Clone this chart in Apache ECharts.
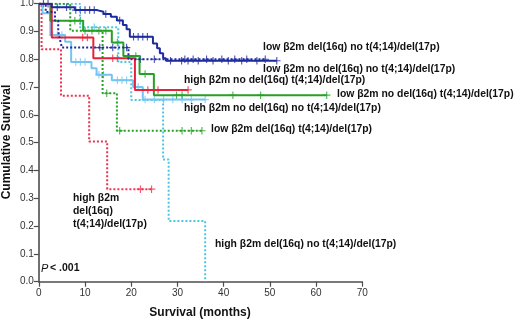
<!DOCTYPE html>
<html><head><meta charset="utf-8">
<script src="https://cdn.jsdelivr.net/npm/echarts@6/dist/echarts.min.js"></script>
<style>html,body{margin:0;padding:0;background:#fff}#c{width:520px;height:320px}</style>
</head><body><div id="c"></div>
<script>
// ---- data (times in months, survival as step points) ----
const xTickValues = [0, 10, 20, 30, 40, 50, 60, 70];
const yTickValues = [0, 0.1, 0.2, 0.3, 0.4, 0.5, 0.6, 0.7, 0.8, 0.9, 1.0];

const lowNoNoTimes = [0, 2.8, 7.8, 12.6, 14, 15.6, 16.9, 18.2, 19, 19.7, 24.7, 25.6, 26.2, 26.9, 27.5, 51.5];
const lowNoNoSurv  = [1.0, 0.987, 0.977, 0.971, 0.963, 0.953, 0.94, 0.923, 0.908, 0.881, 0.857, 0.84, 0.822, 0.804, 0.795, 0.795];
const lowNoNoCens  = [1, 2, 4, 6, 8, 9, 10, 11, 12, 14.5, 17.5, 20.5, 21.5, 22.5, 23.5, 28.5, 30.9, 32.3, 34.5, 37.7, 41, 43.9, 47.2, 51.5];

const lowDelNoTimes = [0, 1.5, 3.5, 4.2, 4.6, 5, 19.4, 49];
const lowDelNoSurv  = [1.0, 0.97, 0.94, 0.9, 0.87, 0.842, 0.80, 0.80];
const lowDelNoCens  = [13.2, 16, 19, 22, 25, 31.6, 33.4, 36.3, 39.6, 42.4, 45, 49];

const highNoTTimes = [0, 2.8, 11.8, 20.8, 32.3];
const highNoTSurv  = [1.0, 0.878, 0.804, 0.69, 0.69];
const highNoTCens  = [9.5, 10.5, 16, 17, 23.6, 25.8, 32.3];

const lowNoTTimes = [0, 2.5, 9.6, 15.8, 18.3, 21.8, 24.9, 62.3];
const lowNoTSurv  = [1.0, 0.939, 0.903, 0.86, 0.812, 0.747, 0.671, 0.671];
const lowNoTCens  = [7.8, 9, 13, 14.5, 17, 21, 23, 29.8, 31, 42, 48, 62.3];

const highNoNoTimes = [0, 0.8, 2.5, 5.7, 7, 11.4, 12.5, 15.8, 20.4, 22.5, 36];
const highNoNoSurv  = [1.0, 0.966, 0.887, 0.863, 0.79, 0.768, 0.744, 0.725, 0.70, 0.655, 0.655];
const highNoNoCens  = [3, 4, 5, 8, 9, 10, 13, 14, 17, 18, 19, 21.5, 23, 25, 27, 29, 31, 33, 36];

const highDelNoTimes = [0, 8.9, 17.2, 20, 26.9, 28.1, 36, 36];
const highDelNoSurv  = [1.0, 0.915, 0.79, 0.654, 0.44, 0.218, 0.0, 0.0];
const highDelNoCens  = [12];

const lowDelTTimes = [0, 6.8, 13.8, 16.9, 35.3];
const lowDelTSurv  = [1.0, 0.903, 0.678, 0.543, 0.543];
const lowDelTCens  = [10, 11.5, 14.7, 17.5, 31, 33, 35.3];

const highDelTTimes = [0, 0.6, 4.8, 10.9, 14.8, 24.4];
const highDelTSurv  = [1.0, 0.836, 0.669, 0.504, 0.333, 0.333];
const highDelTCens  = [22, 24.4];

const groupLabels = [
  'low β2m del(16q) no t(4;14)/del(17p)',
  'low β2m no del(16q) no t(4;14)/del(17p)',
  'high β2m no del(16q) t(4;14)/del(17p)',
  'low β2m no del(16q) t(4;14)/del(17p)',
  'high β2m no del(16q) no t(4;14)/del(17p)',
  'low β2m del(16q) t(4;14)/del(17p)',
  'high β2m\ndel(16q)\nt(4;14)/del(17p)',
  'high β2m del(16q) no t(4;14)/del(17p)'
];
const pText = '< .001';
const xTitle = 'Survival (months)';
const yTitle = 'Cumulative Survival';

// ---- build ----
function pairs(ts, ss){ return ts.map((t,i)=>[t, ss[i]]); }
function survAt(ts, ss, t){ let v = ss[0]; for (let i=0;i<ts.length;i++){ if (ts[i] <= t) v = ss[i]; } return v; }
const plus = 'path://M4.25,0 H5.75 V4.25 H10 V5.75 H5.75 V10 H4.25 V5.75 H0 V4.25 H4.25 Z';

const groups = [
  {t: highDelTTimes, s: highDelTSurv, c: highDelTCens, color: '#f0304f', dotted: true},
  {t: highDelNoTimes, s: highDelNoSurv, c: highDelNoCens, color: '#4cc6df', dotted: true},
  {t: lowDelTTimes, s: lowDelTSurv, c: lowDelTCens, color: '#25a126', dotted: true},
  {t: highNoNoTimes, s: highNoNoSurv, c: highNoNoCens, color: '#74c4f2', dotted: false},
  {t: lowNoTTimes, s: lowNoTSurv, c: lowNoTCens, color: '#25a126', dotted: false},
  {t: highNoTTimes, s: highNoTSurv, c: highNoTCens, color: '#e8203a', dotted: false},
  {t: lowDelNoTimes, s: lowDelNoSurv, c: lowDelNoCens, color: '#1f2a9e', dotted: true},
  {t: lowNoNoTimes, s: lowNoNoSurv, c: lowNoNoCens, color: '#1f2a9e', dotted: false}
];

const series = [];
groups.forEach(g => {
  series.push({
    type: 'line', step: 'end', symbol: 'none', silent: true,
    data: pairs(g.t, g.s),
    lineStyle: {color: g.color, width: 2, type: g.dotted ? [2, 2] : 'solid'}
  });
  series.push({
    type: 'scatter', symbol: plus, symbolSize: 7.5, silent: true,
    data: g.c.map(t => [t, survAt(g.t, g.s, t)]),
    itemStyle: {color: g.color}
  });
});

const labelFont = 'bold 10.4px "Liberation Sans", Arial, sans-serif';
const labelPos = [
  [263, 47], [263, 69], [184, 80], [337, 94], [184, 108], [211, 129.5], null, [215, 244]
];
const graphic = [];
groupLabels.forEach((txt, i) => {
  if (labelPos[i]) {
    graphic.push({type: 'text', x: labelPos[i][0], y: labelPos[i][1], silent: true,
      style: {text: txt, font: labelFont, fill: '#111', verticalAlign: 'middle', align: 'left'}});
  } else {
    graphic.push({type: 'text', x: 73, y: 191, silent: true,
      style: {text: txt, font: labelFont, fill: '#111', verticalAlign: 'top', align: 'left', lineHeight: 13.3}});
  }
});
graphic.push({type: 'text', x: 41, y: 268.5, silent: true,
  style: {text: 'P', font: 'italic 11px "Liberation Sans", Arial, sans-serif', fill: '#111', verticalAlign: 'middle'}});
graphic.push({type: 'text', x: 50, y: 268.5, silent: true,
  style: {text: pText, font: 'bold 10.5px "Liberation Sans", Arial, sans-serif', fill: '#111', verticalAlign: 'middle'}});
graphic.push({type: 'text', x: 200, y: 313, silent: true,
  style: {text: xTitle, font: 'bold 12px "Liberation Sans", Arial, sans-serif', fill: '#111', align: 'center', verticalAlign: 'middle'}});
graphic.push({type: 'text', x: 7, y: 142, rotation: Math.PI/2, silent: true,
  style: {text: yTitle, font: 'bold 12px "Liberation Sans", Arial, sans-serif', fill: '#111', align: 'center', verticalAlign: 'middle'}});

const axisCommon = {
  axisLine: {show: true, lineStyle: {color: '#4d4d4d', width: 1.6}},
  axisTick: {show: true, length: 5, lineStyle: {color: '#4d4d4d', width: 1.2}},
  splitLine: {show: false},
  axisLabel: {color: '#333', fontSize: 10, fontFamily: '"Liberation Sans", Arial, sans-serif'}
};

const chart = echarts.init(document.getElementById('c'), null, {renderer: 'canvas'});
chart.setOption({
  animation: false,
  backgroundColor: '#fff',
  grid: {left: 38.8, right: 157.7, top: 3.7, bottom: 38.3, containLabel: false, outerBoundsMode: 'none'},
  xAxis: Object.assign({type: 'value', min: xTickValues[0], max: xTickValues[xTickValues.length-1], interval: 10}, axisCommon,
    {axisLabel: Object.assign({}, axisCommon.axisLabel, {margin: 7})}),
  yAxis: Object.assign({type: 'value', min: yTickValues[0], max: yTickValues[yTickValues.length-1], interval: 0.1}, axisCommon,
    {axisLabel: Object.assign({}, axisCommon.axisLabel, {margin: 5, formatter: v => v.toFixed(1)})}),
  series: series,
  graphic: graphic
});
</script>
</body></html>
